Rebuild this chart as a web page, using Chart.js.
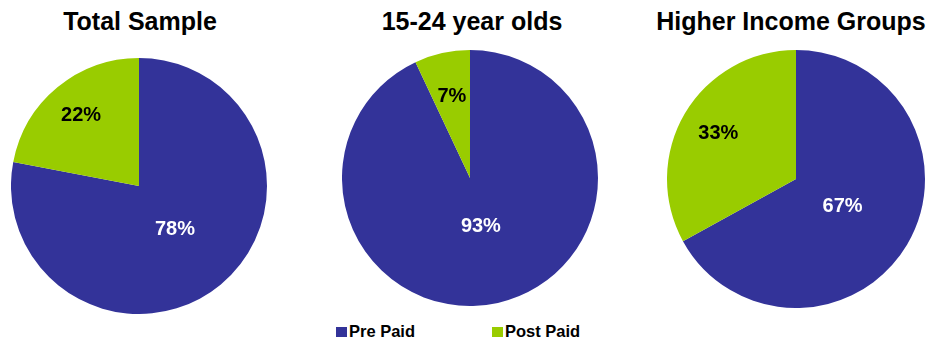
<!DOCTYPE html>
<html>
<head>
<meta charset="utf-8">
<script src="https://cdn.jsdelivr.net/npm/chart.js@4/dist/chart.umd.min.js"></script>
<style>
  html, body { margin: 0; padding: 0; background: #ffffff; }
  #stage { position: relative; width: 931px; height: 338px; overflow: hidden;
           font-family: "Liberation Sans", Arial, sans-serif; }
  .title { position: absolute; top: 9px; width: 340px; margin-left: -170px;
           text-align: center; font-weight: bold; font-size: 25px; line-height: 25px; color: #000; }
  .pie { position: absolute; }
  .legend-item { position: absolute; top: 323px; font-weight: bold; font-size: 16.5px;
                 line-height: 16px; color: #000; white-space: nowrap; }
  .swatch { position: absolute; top: 4px; width: 11px; height: 10px; }
  .legend-item span.text { position: absolute; left: 13px; top: 0; }
</style>
</head>
<body>
<div id="stage"></div>
<script>
// Survey groups and their share of pre paid vs post paid subscriptions (%)
const groups = ["Total Sample", "15-24 year olds", "Higher Income Groups"];
const seriesNames = ["Pre Paid", "Post Paid"];
const prePaid = [78, 93, 67];
const postPaid = [22, 7, 33];

const colors = ["#333399", "#99CC00"];
const labelColors = ["#ffffff", "#000000"];

// Pie placement: centre x, centre y, radius (px)
const layout = [
  { cx: 139, cy: 186, r: 128, titleX: 140, labelFrac: [0.44, 0.71] },
  { cx: 470, cy: 178, r: 128, titleX: 472, labelFrac: [0.39, 0.65] },
  { cx: 796, cy: 179, r: 129, titleX: 791, labelFrac: [0.42, 0.70] }
];

const stage = document.getElementById("stage");

// Writes each slice's percentage inside the slice
const sliceLabels = {
  id: "sliceLabels",
  afterDatasetsDraw(chart, args, opts) {
    const ctx = chart.ctx;
    const meta = chart.getDatasetMeta(0);
    const values = chart.data.datasets[0].data;
    ctx.save();
    ctx.font = "bold 20px 'Liberation Sans', Arial, sans-serif";
    ctx.textAlign = "center";
    ctx.textBaseline = "middle";
    meta.data.forEach((arc, i) => {
      const p = arc.getProps(["x", "y", "startAngle", "endAngle", "outerRadius"], true);
      const mid = (p.startAngle + p.endAngle) / 2;
      const d = p.outerRadius * opts.frac[i];
      ctx.fillStyle = labelColors[i];
      ctx.fillText(values[i] + "%", p.x + Math.cos(mid) * d, p.y + Math.sin(mid) * d);
    });
    ctx.restore();
  }
};

groups.forEach((name, g) => {
  const L = layout[g];

  const title = document.createElement("div");
  title.className = "title";
  title.style.left = L.titleX + "px";
  title.textContent = name;
  stage.appendChild(title);

  const size = L.r * 2;
  const box = document.createElement("div");
  box.className = "pie";
  box.style.left = (L.cx - L.r) + "px";
  box.style.top = (L.cy - L.r) + "px";
  box.style.width = size + "px";
  box.style.height = size + "px";
  const canvas = document.createElement("canvas");
  box.appendChild(canvas);
  stage.appendChild(box);

  new Chart(canvas, {
    type: "pie",
    data: {
      labels: seriesNames,
      datasets: [{
        data: [prePaid[g], postPaid[g]],
        backgroundColor: colors,
        borderWidth: 0,
        hoverOffset: 0,
        offset: 0
      }]
    },
    options: {
      responsive: true,
      maintainAspectRatio: false,
      animation: false,
      events: [],
      layout: { padding: 0 },
      plugins: {
        legend: { display: false },
        tooltip: { enabled: false },
        sliceLabels: { frac: L.labelFrac }
      }
    },
    plugins: [sliceLabels]
  });
});

// Shared legend beneath the pies
const legendX = [336, 492];
seriesNames.forEach((s, i) => {
  const item = document.createElement("div");
  item.className = "legend-item";
  item.style.left = legendX[i] + "px";
  const sw = document.createElement("div");
  sw.className = "swatch";
  sw.style.background = colors[i];
  const tx = document.createElement("span");
  tx.className = "text";
  tx.textContent = s;
  item.appendChild(sw);
  item.appendChild(tx);
  stage.appendChild(item);
});
</script>
</body>
</html>
